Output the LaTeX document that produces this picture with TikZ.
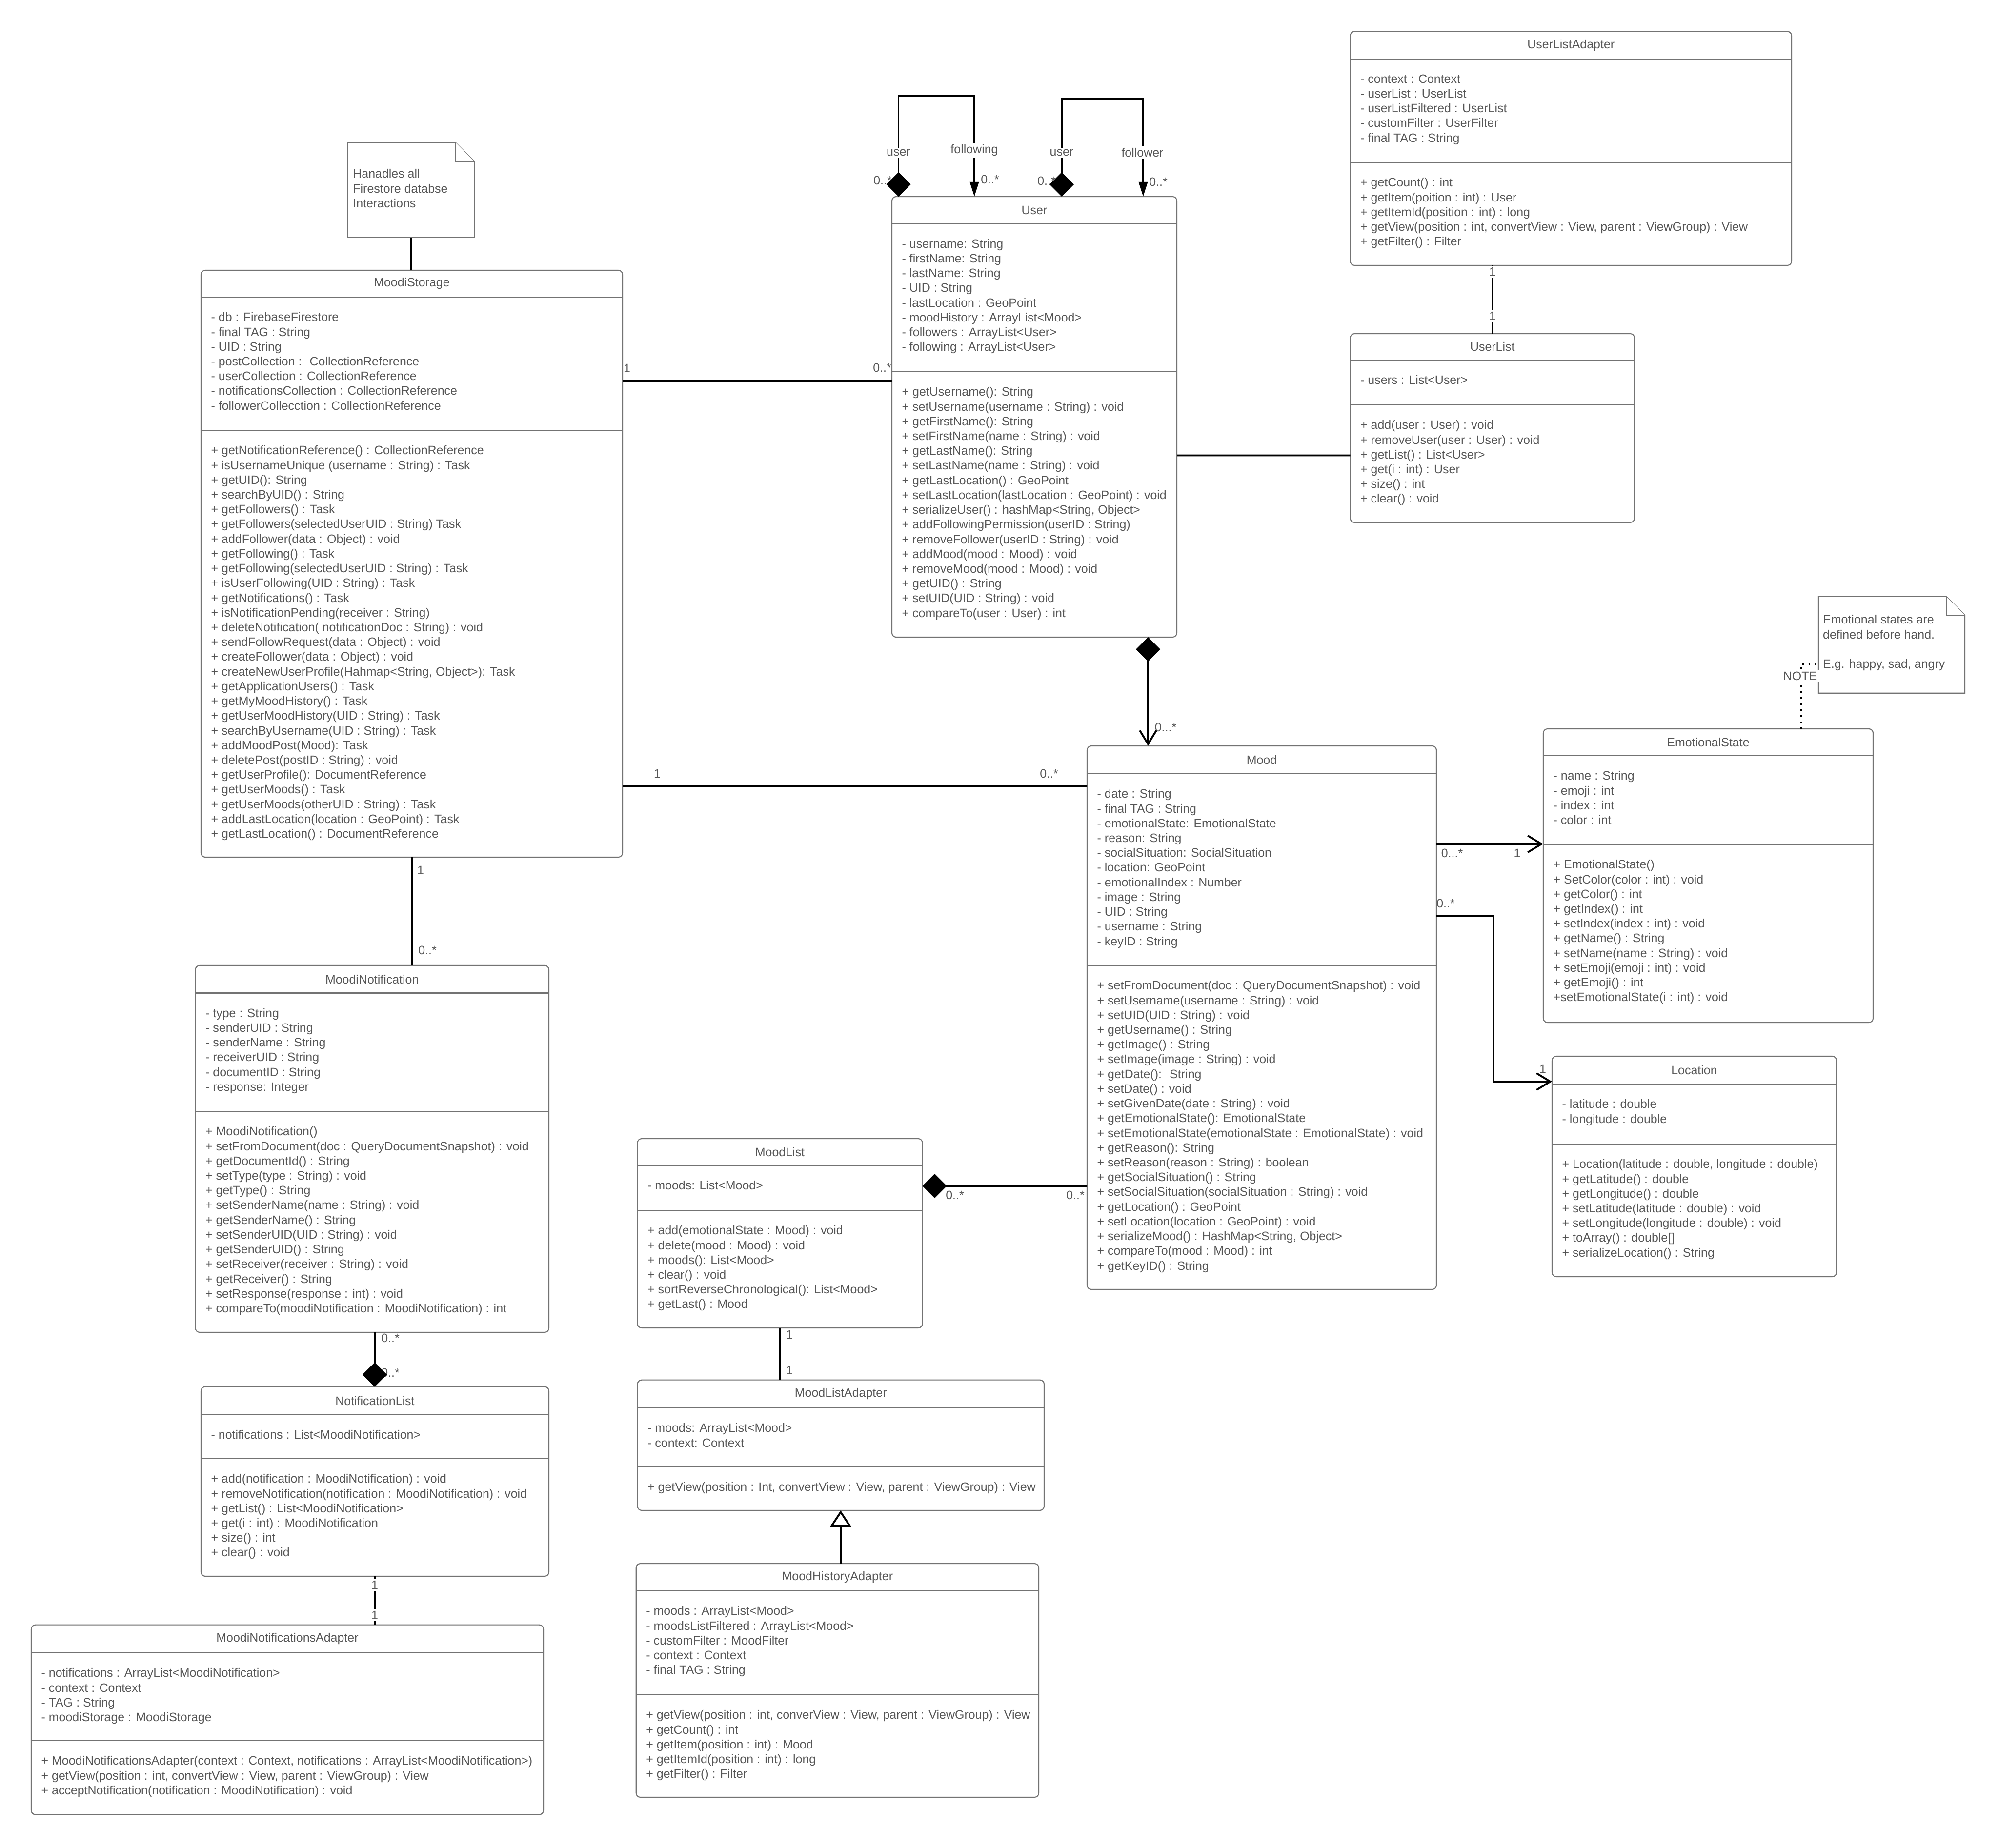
\documentclass[tikz,border=0pt]{standalone}
\usepackage{fontspec}
\setmainfont{Liberation Sans}
\usepackage{tikz}
\usetikzlibrary{arrows.meta, positioning, calc}

\definecolor{umltext}{RGB}{85,85,85}
\definecolor{umlborder}{RGB}{115,115,115}
\newcommand{\umlfont}{\fontsize{7.1}{8.6}\selectfont}

% #1 name, #2 north west corner, #3 width, #4 height, #5 title,
% #6 title line offset, #7 attribute line offset, #8 attributes, #9 operations
\newcommand{\umlclass}[9]{%
  \node[classbox, minimum width=#3cm, minimum height=#4cm] (#1) at (#2) {};
  \draw[sepline] ([yshift=-#6cm]#1.north west) -- ([yshift=-#6cm]#1.north east);
  \draw[sepline] ([yshift=-#7cm]#1.north west) -- ([yshift=-#7cm]#1.north east);
  \node[classname] (#1-name) at ([yshift=-#6cm/2]#1.north) {#5};
  \node[members] (#1-attr) at ([xshift=0.2cm,yshift=-#6cm-0.31cm]#1.north west) {#8};
  \node[members] (#1-ops) at ([xshift=0.2cm,yshift=-#7cm-0.31cm]#1.north west) {#9};
}

\begin{document}
\begin{tikzpicture}[
    classbox/.style={draw=umlborder, line width=0.6pt, rounded corners=2.5pt, fill=white, anchor=north west, inner sep=0pt, outer sep=0pt},
    sepline/.style={draw=umlborder, line width=0.6pt},
    classname/.style={font=\umlfont, text=umltext, inner sep=0pt},
    members/.style={font=\umlfont, text=umltext, inner sep=0pt, anchor=north west, align=left},
    notebox/.style={anchor=north west, inner sep=0pt, outer sep=0pt},
    notedraw/.style={draw=umlborder, line width=0.6pt, fill=white},
    mult/.style={font=\umlfont, text=umltext, inner sep=1pt},
    role/.style={mult, fill=white},
    assoc/.style={draw=black, line width=1.1pt},
    comp/.style={assoc, arrows={Diamond[length=5mm,width=5mm]-}},
    navig/.style={assoc, arrows={-Straight Barb[length=2.8mm,width=3.4mm]}},
    inherit/.style={assoc, arrows={-Triangle[open,length=3.4mm,width=4.4mm,fill=white]}},
    notelink/.style={draw=black, line width=0.9pt, dash pattern=on 0.9pt off 2.6pt}
]
\useasboundingbox (0,0) rectangle (40.95,-37.88);
\fill[white] (0,0) rectangle (40.95,-37.88);

% notes
\node[notebox, minimum width=2.6cm, minimum height=1.944cm] (storagenote) at (7.127,-2.923) {};
\draw[notedraw] (storagenote.north west) -- ([xshift=-0.39cm]storagenote.north east) -- ([yshift=-0.39cm]storagenote.north east) -- (storagenote.south east) -- (storagenote.south west) -- cycle;
\draw[notedraw] ([xshift=-0.39cm]storagenote.north east) |- ([yshift=-0.39cm]storagenote.north east);
\node[members] (storagenote-text) at (7.227,-3.46) {Hanadles all\\Firestore databse\\Interactions};

\node[notebox, minimum width=3.0cm, minimum height=1.981cm] (esnote) at (37.27,-12.226) {};
\draw[notedraw] (esnote.north west) -- ([xshift=-0.38cm]esnote.north east) -- ([yshift=-0.38cm]esnote.north east) -- (esnote.south east) -- (esnote.south west) -- cycle;
\draw[notedraw] ([xshift=-0.38cm]esnote.north east) |- ([yshift=-0.38cm]esnote.north east);
\node[members] (esnote-text) at (37.355,-12.60) {Emotional states are\\defined before hand.\\[8.6pt]E.g. happy, sad, angry};

% classes
\umlclass{storage}{4.12,-5.54}{8.64}{12.03}{MoodiStorage}{0.55}{3.28}
  {- db : FirebaseFirestore\\- final TAG : String\\- UID : String\\- postCollection : ~CollectionReference\\- userCollection : CollectionReference\\- notificationsCollection : CollectionReference\\- followerCollecction : CollectionReference}
  {+ getNotificationReference() : CollectionReference\\+ isUsernameUnique (username : String) : Task\\+ getUID(): String\\+ searchByUID() : String\\+ getFollowers() : Task\\+ getFollowers(selectedUserUID : String) Task\\+ addFollower(data : Object) : void\\+ getFollowing() : Task\\+ getFollowing(selectedUserUID : String) : Task\\+ isUserFollowing(UID : String) : Task\\+ getNotifications() : Task\\+ isNotificationPending(receiver : String)\\+ deleteNotification( notificationDoc : String) : void\\+ sendFollowRequest(data : Object) : void\\+ createFollower(data : Object) : void\\+ createNewUserProfile(Hahmap<String, Object>): Task\\+ getApplicationUsers() : Task\\+ getMyMoodHistory() : Task\\+ getUserMoodHistory(UID : String) : Task\\+ searchByUsername(UID : String) : Task\\+ addMoodPost(Mood): Task\\+ deletePost(postID : String) : void\\+ getUserProfile(): DocumentReference\\+ getUserMoods() : Task\\+ getUserMoods(otherUID : String) : Task\\+ addLastLocation(location : GeoPoint) : Task\\+ getLastLocation() : DocumentReference}

\umlclass{user}{18.28,-4.03}{5.84}{9.03}{User}{0.555}{3.59}
  {- username: String\\- firstName: String\\- lastName: String\\- UID : String\\- lastLocation : GeoPoint\\- moodHistory : ArrayList<Mood>\\- followers : ArrayList<User>\\- following : ArrayList<User>}
  {+ getUsername(): String\\+ setUsername(username : String) : void\\+ getFirstName(): String\\+ setFirstName(name : String) : void\\+ getLastName(): String\\+ setLastName(name : String) : void\\+ getLastLocation() : GeoPoint\\+ setLastLocation(lastLocation : GeoPoint) : void\\+ serializeUser() : hashMap<String, Object>\\+ addFollowingPermission(userID : String)\\+ removeFollower(userID : String) : void\\+ addMood(mood : Mood) : void\\+ removeMood(mood : Mood) : void\\+ getUID() : String\\+ setUID(UID : String) : void\\+ compareTo(user : User) : int}

\umlclass{useradapter}{27.675,-0.645}{9.045}{4.795}{UserListAdapter}{0.565}{2.685}
  {- context : Context\\- userList : UserList\\- userListFiltered : UserList\\- customFilter : UserFilter\\- final TAG : String}
  {+ getCount() : int\\+ getItem(poition : int) : User\\+ getItemId(position : int) : long\\+ getView(position : int, convertView : View, parent : ViewGroup) : View\\+ getFilter() : Filter}

\umlclass{userlist}{27.675,-6.84}{5.825}{3.87}{UserList}{0.54}{1.46}
  {- users : List<User>}
  {+ add(user : User) : void\\+ removeUser(user : User) : void\\+ getList() : List<User>\\+ get(i : int) : User\\+ size() : int\\+ clear() : void}

\umlclass{mood}{22.28,-15.29}{7.16}{11.14}{Mood}{0.57}{4.50}
  {- date : String\\- final TAG : String\\- emotionalState: EmotionalState\\- reason: String\\- socialSituation: SocialSituation\\- location: GeoPoint\\- emotionalIndex : Number\\- image : String\\- UID : String\\- username : String\\- keyID : String}
  {+ setFromDocument(doc : QueryDocumentSnapshot) : void\\+ setUsername(username : String) : void\\+ setUID(UID : String) : void\\+ getUsername() : String\\+ getImage() : String\\+ setImage(image : String) : void\\+ getDate(): ~String\\+ setDate() : void\\+ setGivenDate(date : String) : void\\+ getEmotionalState(): EmotionalState\\+ setEmotionalState(emotionalState : EmotionalState) : void\\+ getReason(): String\\+ setReason(reason : String) : boolean\\+ getSocialSituation() : String\\+ setSocialSituation(socialSituation : String) : void\\+ getLocation() : GeoPoint\\+ setLocation(location : GeoPoint) : void\\+ serializeMood() : HashMap<String, Object>\\+ compareTo(mood : Mood) : int\\+ getKeyID() : String}

\umlclass{emostate}{31.63,-14.94}{6.76}{6.02}{EmotionalState}{0.55}{2.37}
  {- name : String\\- emoji : int\\- index : int\\- color : int}
  {+ EmotionalState()\\+ SetColor(color : int) : void\\+ getColor() : int\\+ getIndex() : int\\+ setIndex(index : int) : void\\+ getName() : String\\+ setName(name : String) : void\\+ setEmoji(emoji : int) : void\\+ getEmoji() : int\\+setEmotionalState(i : int) : void}

\umlclass{location}{31.81,-21.65}{5.83}{4.52}{Location}{0.57}{1.80}
  {- latitude : double\\- longitude : double}
  {+ Location(latitude : double, longitude : double)\\+ getLatitude() : double\\+ getLongitude() : double\\+ setLatitude(latitude : double) : void\\+ setLongitude(longitude : double) : void\\+ toArray() : double[]\\+ serializeLocation() : String}

\umlclass{notif}{4.005,-19.79}{7.245}{7.52}{MoodiNotification}{0.565}{2.99}
  {- type : String\\- senderUID : String\\- senderName : String\\- receiverUID : String\\- documentID : String\\- response: Integer}
  {+ MoodiNotification()\\+ setFromDocument(doc : QueryDocumentSnapshot) : void\\+ getDocumentId() : String\\+ setType(type : String) : void\\+ getType() : String\\+ setSenderName(name : String) : void\\+ getSenderName() : String\\+ setSenderUID(UID : String) : void\\+ getSenderUID() : String\\+ setReceiver(receiver : String) : void\\+ getReceiver() : String\\+ setResponse(response : int) : void\\+ compareTo(moodiNotification : MoodiNotification) : int}

\umlclass{notiflist}{4.12,-28.425}{7.13}{3.885}{NotificationList}{0.575}{1.475}
  {- notifications : List<MoodiNotification>}
  {+ add(notification : MoodiNotification) : void\\+ removeNotification(notification : MoodiNotification) : void\\+ getList() : List<MoodiNotification>\\+ get(i : int) : MoodiNotification\\+ size() : int\\+ clear() : void}

\umlclass{notifadapter}{0.64,-33.306}{10.50}{3.889}{MoodiNotificationsAdapter}{0.574}{2.374}
  {- notifications : ArrayList<MoodiNotification>\\- context : Context\\- TAG : String\\- moodiStorage : MoodiStorage}
  {+ MoodiNotificationsAdapter(context : Context, notifications : ArrayList<MoodiNotification>)\\+ getView(position : int, convertView : View, parent : ViewGroup) : View\\+ acceptNotification(notification : MoodiNotification) : void}

\umlclass{moodlist}{13.065,-23.34}{5.841}{3.88}{MoodList}{0.55}{1.47}
  {- moods: List<Mood>}
  {+ add(emotionalState : Mood) : void\\+ delete(mood : Mood) : void\\+ moods(): List<Mood>\\+ clear() : void\\+ sortReverseChronological(): List<Mood>\\+ getLast() : Mood}

\umlclass{moodadapter}{13.065,-28.286}{8.335}{2.674}{MoodListAdapter}{0.574}{1.784}
  {- moods: ArrayList<Mood>\\- context: Context}
  {+ getView(position : Int, convertView : View, parent : ViewGroup) : View}

\umlclass{historyadapter}{13.037,-32.05}{8.253}{4.79}{MoodHistoryAdapter}{0.56}{2.69}
  {- moods : ArrayList<Mood>\\- moodsListFiltered : ArrayList<Mood>\\- customFilter : MoodFilter\\- context : Context\\- final TAG : String}
  {+ getView(position : int, converView : View, parent : ViewGroup) : View\\+ getCount() : int\\+ getItem(position : int) : Mood\\+ getItemId(position : int) : long\\+ getFilter() : Filter}

% multiplicities (under the diamonds)
\node[mult] (loopa-m1) at (18.09,-3.70) {0..*};
\node[mult] (loopa-m2) at (20.29,-3.68) {0..*};
\node[mult] (loopb-m1) at (21.45,-3.71) {0..*};
\node[mult] (loopb-m2) at (23.74,-3.73) {0..*};
\node[mult] (su-m1) at (12.85,-7.55) {1};
\node[mult] (su-m2) at (18.08,-7.54) {0..*};
\node[mult] (sm-m1) at (13.47,-15.86) {1};
\node[mult] (sm-m2) at (21.50,-15.86) {0..*};
\node[mult] (um-m) at (23.89,-14.91) {0...*};
\node[mult] (me-m1) at (29.76,-17.49) {0...*};
\node[mult] (me-m2) at (31.095,-17.49) {1};
\node[mult] (ml-m1) at (29.63,-18.52) {0..*};
\node[mult] (ml-m2) at (31.62,-21.91) {1};
\node[mult] (mm-m1) at (19.57,-24.50) {0..*};
\node[mult] (mm-m2) at (22.04,-24.50) {0..*};
\node[mult] (la-m1) at (16.18,-27.355) {1};
\node[mult] (la-m2) at (16.18,-28.09) {1};
\node[mult] (sn-m1) at (8.62,-17.84) {1};
\node[mult] (sn-m2) at (8.76,-19.48) {0..*};
\node[mult] (nl-m1) at (8.00,-27.43) {0..*};
\node[mult] (nl-m2) at (8.00,-28.14) {0..*};

% connectors
\draw[assoc] (storagenote.south) -- (storagenote.south |- storage.north);
\draw[assoc] ([yshift=-2.26cm]storage.north east) -- ([yshift=-3.77cm]user.north west);
\draw[assoc] ([yshift=-10.58cm]storage.north east) -- ([yshift=-0.83cm]mood.north west);
\draw[assoc] (storage.south) -- (storage.south |- notif.north);
\draw[comp] ([xshift=3.56cm]notiflist.north west) -- ([xshift=3.675cm]notif.south west);
\draw[assoc] ([xshift=3.56cm]notiflist.south west) -- ([xshift=7.04cm]notifadapter.north west);

% user follows user
\draw[assoc, arrows={Diamond[length=5mm,width=5mm]-Triangle[length=3mm,width=1.8mm]}] ([xshift=0.135cm]user.north west) -- ++(0,2.06) -| ([xshift=1.69cm]user.north west);
\draw[assoc, arrows={Diamond[length=5mm,width=5mm]-Triangle[length=3mm,width=1.8mm]}] ([xshift=3.48cm]user.north west) -- ++(0,2.01) -| ([xshift=5.15cm]user.north west);

\draw[assoc] ([yshift=-5.305cm]user.north east) -- ([yshift=-2.495cm]userlist.north west);
\draw[assoc] ([xshift=2.915cm]useradapter.south west) -- ([xshift=2.915cm]userlist.north west);
\draw[assoc, arrows={Diamond[length=5mm,width=5mm]-Straight Barb[length=2.8mm,width=3.4mm]}] ([xshift=5.25cm]user.south west) -- ([xshift=1.25cm]mood.north west);
\draw[navig] ([yshift=-2.01cm]mood.north east) -- ([yshift=-2.36cm]emostate.north west);
\draw[navig] ([yshift=-3.49cm]mood.north east) -- ++(1.17,0) |- ([yshift=-0.52cm]location.north west);
\draw[comp] ([yshift=-0.97cm]moodlist.north east) -- ([yshift=-9.02cm]mood.north west);
\draw[assoc] ([xshift=2.915cm]moodlist.south west) -- ([xshift=2.915cm]moodadapter.north west);
\draw[inherit] ([xshift=4.193cm]historyadapter.north west) -- ([xshift=4.165cm]moodadapter.south west);
\draw[notelink] ([xshift=5.28cm]emostate.north west) |- ([yshift=-1.394cm]esnote.north west);

% role names and labels on the lines
\node[role] (loopa-r1) at (18.415,-3.13) {user};
\node[role] (loopa-r2) at (19.97,-3.08) {following};
\node[role] (loopb-r1) at (21.76,-3.13) {user};
\node[role] (loopb-r2) at (23.415,-3.13) {follower};
\node[role] (ul-m1) at (30.59,-5.57) {1};
\node[role] (ul-m2) at (30.59,-6.48) {1};
\node[role] (na-m1) at (7.68,-32.485) {1};
\node[role] (na-m2) at (7.68,-33.11) {1};
\node[role] (es-note) at (36.896,-13.86) {NOTE};
\end{tikzpicture}
\end{document}
